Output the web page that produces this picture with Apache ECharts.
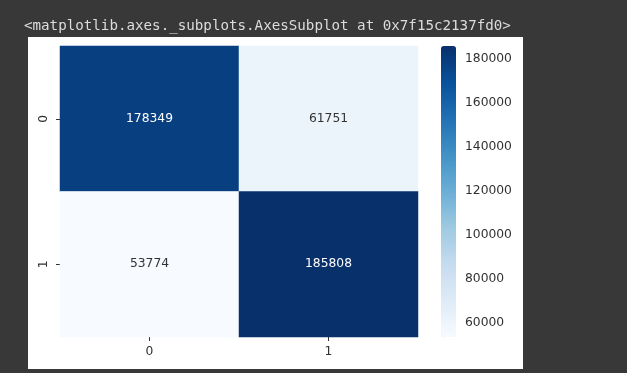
<!DOCTYPE html>
<html>
<head>
<meta charset="utf-8">
<script src="https://cdn.jsdelivr.net/npm/echarts@6/dist/echarts.min.js"></script>
<style>
  html, body { margin: 0; padding: 0; background: #383838; }
  #chart { width: 627px; height: 373px; }
</style>
</head>
<body>
<div id="chart"></div>
<script>
// Confusion-matrix style heatmap (rows = actual, columns = predicted)
const xCategories = ['0', '1'];
const yCategories = ['0', '1'];
const row0Values = [178349, 61751];
const row1Values = [53774, 185808];
const colorbarTicks = [60000, 80000, 100000, 120000, 140000, 160000, 180000];
const headerText = '<matplotlib.axes._subplots.AxesSubplot at 0x7f15c2137fd0>';

// matplotlib "Blues" colormap stops
const blues = ['#f7fbff', '#deebf7', '#c6dbef', '#9ecae1', '#6baed6',
               '#4292c6', '#2171b5', '#08519c', '#08306b'];

const rows = [row0Values, row1Values];
const allValues = rows.flat();
const vMin = Math.min(...allValues);
const vMax = Math.max(...allValues);

const cellData = [];
rows.forEach((row, yi) => {
  row.forEach((v, xi) => {
    const t = (v - vMin) / (vMax - vMin);
    cellData.push({
      value: [xi, yi, v],
      label: { color: t > 0.5 ? '#ffffff' : '#333333' }
    });
  });
});

const labelFont = { fontFamily: 'DejaVu Sans', fontSize: 12.3, color: '#303030' };

const chart = echarts.init(document.getElementById('chart'), null, { renderer: 'canvas' });
chart.setOption({
  backgroundColor: '#383838',
  animation: false,
  graphic: [
    {
      type: 'rect', z: -10, silent: true,
      shape: { x: 28, y: 37, width: 495, height: 332 },
      style: { fill: '#ffffff' }
    },
    {
      type: 'text', left: 24, top: 19, silent: true,
      style: {
        text: headerText,
        fill: '#dcdcdc',
        font: '14.2px "DejaVu Sans Mono", "Liberation Mono", monospace'
      }
    }
  ],
  grid: [
    { left: 60, top: 46, width: 358, height: 291 },
    { left: 441, top: 46, width: 15, height: 291 }
  ],
  xAxis: [
    {
      type: 'category', gridIndex: 0, data: xCategories, position: 'bottom',
      axisLine: { show: false },
      axisTick: { show: true, alignWithLabel: true, length: 4, lineStyle: { color: '#333', width: 1 } },
      axisLabel: Object.assign({ margin: 9 }, labelFont),
      splitLine: { show: false }, splitArea: { show: false }
    },
    {
      type: 'value', gridIndex: 1, show: false, min: 0, max: 1
    }
  ],
  yAxis: [
    {
      type: 'category', gridIndex: 0, data: yCategories, inverse: true,
      axisLine: { show: false },
      axisTick: { show: true, alignWithLabel: true, length: 4, lineStyle: { color: '#333', width: 1 } },
      axisLabel: Object.assign({ rotate: 90, margin: 10 }, labelFont),
      splitLine: { show: false }, splitArea: { show: false }
    },
    {
      type: 'value', gridIndex: 1, position: 'right', min: vMin, max: vMax,
      axisLine: { show: false },
      splitLine: { show: false },
      axisTick: { show: true, length: 4, customValues: colorbarTicks, lineStyle: { color: '#333', width: 1 } },
      axisLabel: Object.assign({
        margin: 9,
        customValues: colorbarTicks,
        formatter: v => String(v)
      }, labelFont)
    }
  ],
  visualMap: {
    type: 'continuous',
    seriesIndex: 0,
    min: vMin, max: vMax,
    orient: 'vertical',
    calculable: false,
    left: 441, top: 46,
    itemWidth: 15, itemHeight: 291,
    padding: 0,
    showLabel: false,
    text: null,
    inRange: { color: blues }
  },
  series: [{
    type: 'heatmap',
    xAxisIndex: 0, yAxisIndex: 0,
    data: cellData,
    label: {
      show: true,
      formatter: p => String(p.value[2]),
      fontFamily: 'DejaVu Sans', fontSize: 12.3
    },
    itemStyle: { borderWidth: 0 },
    emphasis: { disabled: true }
  }]
});
</script>
</body>
</html>
